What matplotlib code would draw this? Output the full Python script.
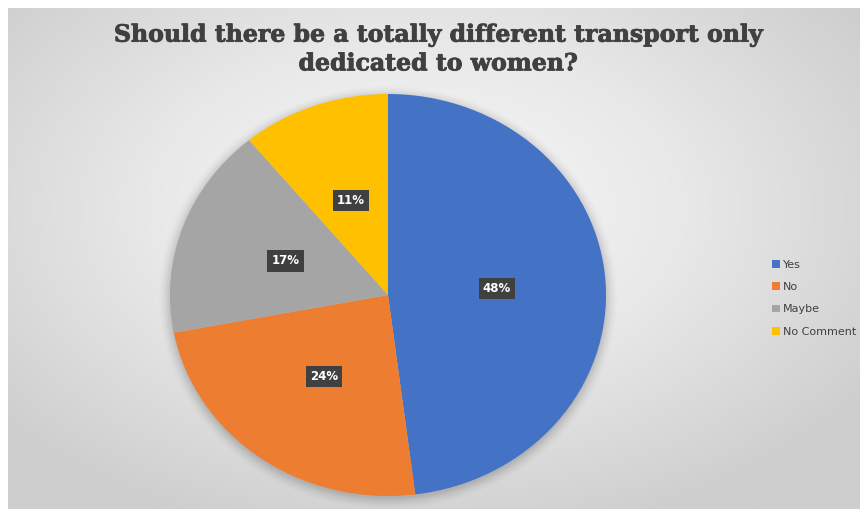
import numpy as np
import matplotlib.pyplot as plt
import matplotlib.patheffects as pe
from matplotlib.colors import LinearSegmentedColormap

labels = ['Yes', 'No', 'Maybe', 'No Comment']
values = [48, 24, 17, 11]
colors = ['#4472C4', '#ED7D31', '#A5A5A5', '#FFC000']
title = 'Should there be a totally different transport only\ndedicated to women?'

W, H = 860, 509
fig = plt.figure(figsize=(W / 100, H / 100), dpi=100)
fig.patch.set_facecolor('white')

# radial grey background of the chart area
bg = fig.add_axes([8 / W, 0, (W - 8) / W, (H - 8) / H])
yy, xx = np.mgrid[0:1:300j, 0:1:500j]
r = np.sqrt(((xx - 0.48) / 0.75) ** 2 + ((yy - 0.4) / 0.8) ** 2)
cmap = LinearSegmentedColormap.from_list('bg', ['#f9f9f9', '#e8e8e8', '#cecece'])
bg.imshow(r, cmap=cmap, vmin=0, vmax=0.85, aspect='auto', extent=[0, 1, 0, 1], origin='upper')
bg.axis('off')

# pie (slightly stretched like the original)
cx, cy, rx, ry = 388, H - 295, 218, 201
ax = fig.add_axes([(cx - rx) / W, (cy - ry) / H, 2 * rx / W, 2 * ry / H])

# soft shadow
for k, a in zip(np.linspace(1.05, 1.0, 8), np.linspace(0.01, 0.035, 8)):
    ax.add_patch(plt.Circle((0.0, -0.012), k, color='black', alpha=a, lw=0, clip_on=False))

wedges, _, autotexts = ax.pie(values, colors=colors, startangle=90, counterclock=False,
                              autopct='%1.0f%%', pctdistance=0.5, radius=1.0,
                              wedgeprops=dict(linewidth=0))
for t in autotexts:
    t.set_color('white')
    t.set_fontsize(8.5)
    t.set_fontweight('bold')
    t.set_bbox(dict(boxstyle='square,pad=0.35', facecolor='#404040', edgecolor='none'))
ax.set_xlim(-1, 1)
ax.set_ylim(-1, 1)
ax.set_aspect('auto')
ax.axis('off')

fig.text(438 / W, 1 - 49 / H, title, ha='center', va='center', fontsize=17,
         fontweight='bold', family='DejaVu Serif', color='#404040', linespacing=1.25,
         path_effects=[pe.Stroke(linewidth=0.6, foreground='#404040'), pe.Normal()])

leg = fig.legend(wedges, labels, loc='upper left', bbox_to_anchor=(762 / W, 1 - 250 / H),
                 frameon=False, fontsize=8, handlelength=0.7, handleheight=0.7,
                 handletextpad=0.3, labelspacing=1.1, labelcolor='#404040')

fig.savefig('out.png', dpi=100)
